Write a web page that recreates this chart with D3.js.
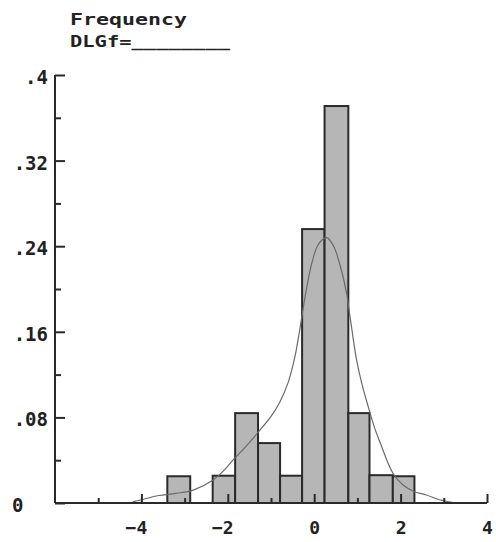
<!DOCTYPE html>
<html>
<head>
<meta charset="utf-8">
<script src="https://cdn.jsdelivr.net/npm/d3@7"></script>
<style>
  html, body { margin: 0; padding: 0; background: #fff; }
  svg { display: block; }
  text { font-family: "DejaVu Sans Mono", "Liberation Mono", monospace; font-weight: bold; fill: #222; }
</style>
</head>
<body>
<div id="chart"></div>
<script>
// histogram bins (bin edges in x units, fraction per bin)
var binEdges = [-3.40, -2.87, -2.35, -1.83, -1.30, -0.79, -0.28, 0.24, 0.79, 1.28, 1.82, 2.32];
var binFreq = [0.025, 0, 0.0255, 0.084, 0.056, 0.0255, 0.256, 0.371, 0.084, 0.026, 0.025];

// smooth density curve, sampled by eye
var curveX = [-4.2, -4.0, -3.6, -3.2, -2.8, -2.34, -2.1, -1.88, -1.6, -1.3, -1.0, -0.8, -0.6, -0.45,
  -0.33, -0.21, -0.05, 0.1, 0.29, 0.45, 0.55, 0.75, 0.83, 0.98, 1.1, 1.25, 1.4, 1.53, 1.82, 2.05, 2.32, 2.6, 2.9, 3.2];
var curveY = [0.001, 0.003, 0.007, 0.009, 0.012, 0.0215, 0.03, 0.040, 0.052, 0.066, 0.081, 0.094, 0.113, 0.136,
  0.163, 0.193, 0.225, 0.242, 0.248, 0.240, 0.229, 0.196, 0.174, 0.134, 0.112, 0.090, 0.070, 0.056, 0.028, 0.017, 0.0105, 0.0075, 0.003, 0.0005];

// axis ticks
var yMajor = [0, 0.08, 0.16, 0.24, 0.32, 0.4];
var yMinor = [0.04, 0.12, 0.2, 0.28, 0.36];
var yLabels = ['0', '.08', '.16', '.24', '.32', '.4'];
var xMajor = [-4, -2, 0, 2, 4];
var xMinor = [-5, -3, -1, 1, 3];

var W = 496, H = 542;
var svg = d3.select('#chart').append('svg').attr('width', W).attr('height', H);

var x = d3.scaleLinear().domain([-6, 4]).range([55, 487]);
var y = d3.scaleLinear().domain([0, 0.4]).range([503, 75]);

// bars
var bins = binFreq.map(function(f, i) { return { x0: binEdges[i], x1: binEdges[i + 1], f: f }; })
  .filter(function(b) { return b.f > 0; });
svg.append('g').selectAll('rect').data(bins).enter().append('rect')
  .attr('x', function(d) { return x(d.x0); })
  .attr('y', function(d) { return y(d.f); })
  .attr('width', function(d) { return x(d.x1) - x(d.x0); })
  .attr('height', function(d) { return y(0) - y(d.f); })
  .attr('fill', '#b6b6b6')
  .attr('stroke', '#2a2a2a').attr('stroke-width', 2);

// density curve
var pts = curveX.map(function(v, i) { return [v, curveY[i]]; });
svg.append('path').datum(pts)
  .attr('fill', 'none').attr('stroke', '#6a6a6a').attr('stroke-width', 1.2)
  .attr('d', d3.line().x(function(d) { return x(d[0]); }).y(function(d) { return y(d[1]); }).curve(d3.curveCatmullRom));

// y axis: ticks point inward
var yAxisG = svg.append('g').attr('transform', 'translate(' + x(-6) + ',0)');
yAxisG.call(d3.axisLeft(y).tickValues(yMajor).tickSize(-10).tickPadding(7)
  .tickFormat(function(d, i) { return yLabels[i]; }));
yAxisG.append('g').call(d3.axisLeft(y).tickValues(yMinor).tickSize(-6).tickFormat(''))
  .select('.domain').remove();
yAxisG.selectAll('.domain').attr('d', 'M0,' + y(0.4) + 'V' + y(0));
yAxisG.selectAll('text').attr('font-size', '19px').attr('font-family', null).attr('fill', '#222')
  .attr('dy', '0.45em');
// the zero label sits at the far left in the original
yAxisG.selectAll('.tick text').filter(function(d) { return d === 0; })
  .attr('text-anchor', 'start').attr('x', -43);

// x axis: ticks point up
var xAxisG = svg.append('g').attr('transform', 'translate(0,' + y(0) + ')');
xAxisG.call(d3.axisBottom(x).tickValues(xMajor).tickSize(-9).tickPadding(18)
  .tickFormat(d3.format('d')));
xAxisG.append('g').call(d3.axisBottom(x).tickValues(xMinor).tickSize(-5).tickFormat(''))
  .select('.domain').remove();
xAxisG.selectAll('.domain').attr('d', 'M' + x(-6) + ',0H' + x(4));
xAxisG.selectAll('.tick text').attr('font-size', '18px').attr('font-family', null).attr('fill', '#222')
  .attr('text-anchor', 'end').attr('dx', '0.3em');

svg.selectAll('.domain').attr('stroke', '#2a2a2a').attr('stroke-width', 2);
svg.selectAll('.tick line').attr('stroke', '#2a2a2a').attr('stroke-width', 2);

// title block
svg.append('text').attr('x', 70).attr('y', 25).attr('font-size', '15px')
  .attr('textLength', 117).attr('lengthAdjust', 'spacingAndGlyphs').text('Frequency');
svg.append('text').attr('x', 70).attr('y', 47).attr('font-size', '15px')
  .attr('textLength', 160).attr('lengthAdjust', 'spacingAndGlyphs').text('DLGf=________');
</script>
</body>
</html>
